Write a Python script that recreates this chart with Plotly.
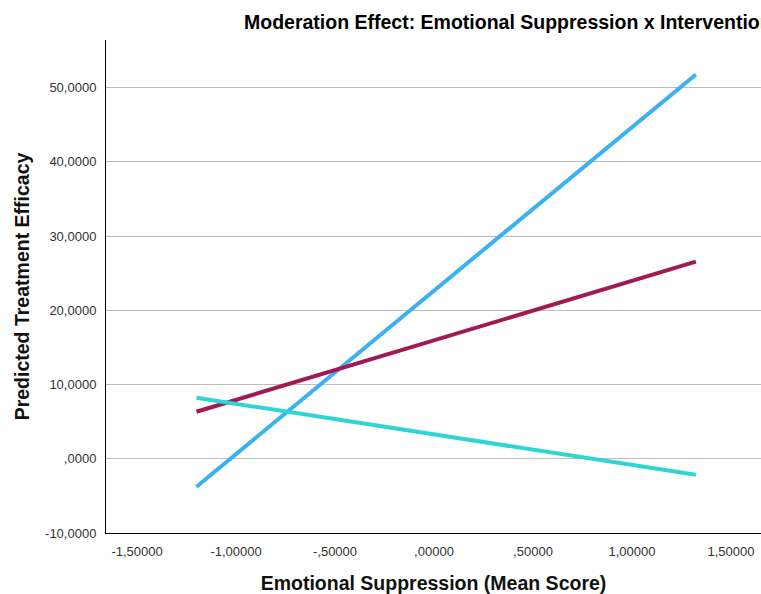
import plotly.graph_objects as go

# Simple slopes: predicted efficacy at low / high emotional suppression
suppression = [-1.20, 1.323]
group_a = [-3.77, 51.75]   # blue
group_b = [6.33, 26.55]    # maroon
group_c = [8.22, -2.16]    # teal

series_names = ["Intervention 1", "Intervention 2", "Intervention 3"]
series_colors = ["#3AB0F5", "#A11A55", "#2FD5D5"]

x_tickvals = [-1.5, -1.0, -0.5, 0.0, 0.5, 1.0, 1.5]
x_ticktext = ["-1,50000", "-1,00000", "-,50000", ",00000", ",50000", "1,00000", "1,50000"]
y_tickvals = [-10, 0, 10, 20, 30, 40, 50]
y_ticktext = ["-10,0000", ",0000", "10,0000", "20,0000", "30,0000", "40,0000", "50,0000"]

fig = go.Figure()
for name, ys, color in zip(series_names, [group_a, group_b, group_c], series_colors):
    fig.add_trace(go.Scatter(
        x=suppression, y=ys, mode="lines", name=name,
        line=dict(color=color, width=4),
    ))

font = "Liberation Sans, Arial, sans-serif"
fig.update_layout(
    width=761, height=594,
    margin=dict(l=106, r=0, t=40, b=61),
    paper_bgcolor="white", plot_bgcolor="white",
    showlegend=False,
    font=dict(family=font, color="#222222"),
    title=dict(
        text="<b>Moderation Effect: Emotional Suppression x Intervention</b>",
        x=244 / 761, xref="container", xanchor="left",
        y=1 - 22 / 594, yref="container", yanchor="middle",
        font=dict(size=19.5, color="#000000", family=font),
    ),
    xaxis=dict(
        range=[-1.657, 1.652],
        tickvals=x_tickvals, ticktext=x_ticktext,
        showgrid=False, zeroline=False,
        showline=True, linecolor="#000000", linewidth=1,
        ticks="", ticklabelstandoff=6,
        tickfont=dict(size=13, color="#333333"),
        title=dict(text="<b>Emotional Suppression (Mean Score)</b>",
                   font=dict(size=19.5, color="#111111"), standoff=18),
    ),
    yaxis=dict(
        range=[-10, 56.4],
        tickvals=y_tickvals, ticktext=y_ticktext,
        showgrid=True, gridcolor="#BDBDBD", gridwidth=1,
        zeroline=False,
        showline=True, linecolor="#000000", linewidth=1,
        ticks="", ticklabelstandoff=6,
        tickfont=dict(size=13, color="#333333"),
        title=dict(text="<b>Predicted Treatment Efficacy</b>",
                   font=dict(size=19.5, color="#111111"), standoff=10),
    ),
)

fig.write_html("out.html")
